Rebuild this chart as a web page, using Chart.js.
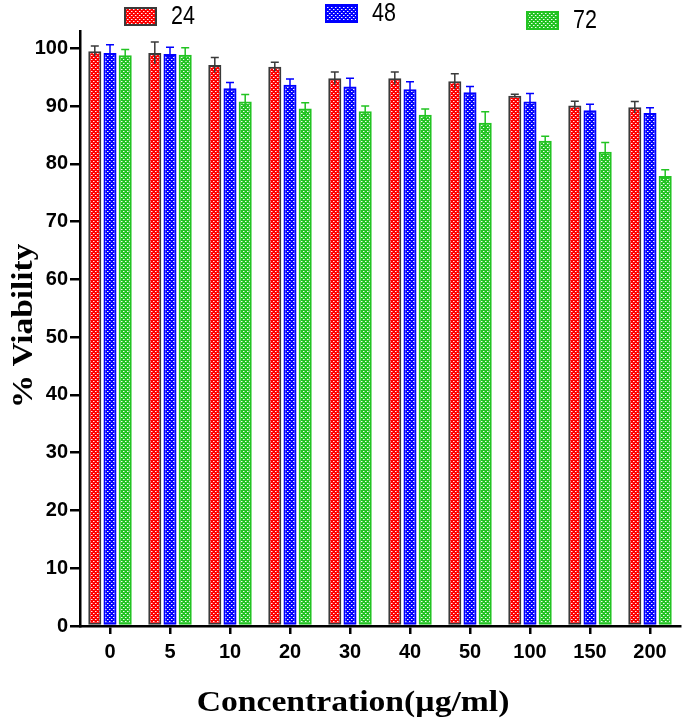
<!DOCTYPE html>
<html>
<head>
<meta charset="utf-8">
<script src="https://cdn.jsdelivr.net/npm/chart.js@4.4.1/dist/chart.umd.min.js"></script>
<style>
  html, body { margin: 0; padding: 0; background: #fff; }
  #wrap { width: 685px; height: 723px; position: relative; }
</style>
</head>
<body>
<div id="wrap"><canvas id="chart"></canvas></div>
<script>
// concentrations (µg/ml)
const categories = ["0", "5", "10", "20", "30", "40", "50", "100", "150", "200"];
const seriesNames = ["24", "48", "72"];

// % viability by hours
const viab24 = [99.5, 99.2, 97.1, 96.8, 94.8, 94.8, 94.3, 91.8, 90.1, 89.8];
const viab48 = [99.2, 99.0, 93.1, 93.7, 93.4, 92.9, 92.4, 90.8, 89.3, 88.8];
const viab72 = [98.8, 98.9, 90.8, 89.6, 89.1, 88.5, 87.1, 84.0, 82.1, 77.9];

// error (SD)
const err24 = [0.9, 1.9, 1.3, 0.8, 1.1, 1.1, 1.3, 0.25, 0.75, 1.0];
const err48 = [1.4, 1.2, 1.0, 1.0, 1.4, 1.3, 1.0, 1.4, 1.0, 0.9];
const err72 = [1.0, 1.2, 1.2, 1.0, 0.9, 1.0, 1.9, 0.8, 1.6, 1.1];

const yTicks = [0, 10, 20, 30, 40, 50, 60, 70, 80, 90, 100];

const xTitle = "Concentration(µg/ml)";
const yTitle = "% Viability";

// motif damier : couleur + petits points blancs décalés
function makePattern(color) {
  const c = document.createElement("canvas");
  c.width = 4;
  c.height = 4;
  const g = c.getContext("2d");
  g.fillStyle = color;
  g.fillRect(0, 0, 4, 4);
  g.fillStyle = "rgba(255,255,255,0.95)";
  g.fillRect(1, 1, 1, 1);
  g.fillRect(3, 3, 1, 1);
  g.fillStyle = "rgba(255,255,255,0.45)";
  g.fillRect(2, 1, 1, 1);
  g.fillRect(0, 3, 1, 1);
  return g.createPattern(c, "repeat");
}

const fills = ["#ff0000", "#0000ff", "#22c322"];
const borders = ["#3a3a3a", "#0000ff", "#22c322"];
const errs = [err24, err48, err72];
const values = [viab24, viab48, viab72];

const errorBars = {
  id: "errorBars",
  afterDatasetsDraw(chart) {
    const ctx = chart.ctx;
    const y = chart.scales.y;
    chart.data.datasets.forEach((ds, di) => {
      const meta = chart.getDatasetMeta(di);
      meta.data.forEach((bar, i) => {
        const v = ds.data[i];
        const e = errs[di][i];
        const top = y.getPixelForValue(v + e);
        const bot = y.getPixelForValue(v - e);
        ctx.save();
        ctx.strokeStyle = borders[di];
        ctx.lineWidth = 1.5;
        ctx.beginPath();
        ctx.moveTo(bar.x, bot);
        ctx.lineTo(bar.x, top);
        ctx.moveTo(bar.x - 4, top);
        ctx.lineTo(bar.x + 4, top);
        ctx.stroke();
        ctx.restore();
      });
    });
  }
};

// légende + titres d'axes (police étirée comme sur la figure)
const decorations = {
  id: "decorations",
  afterDraw(chart) {
    const ctx = chart.ctx;
    const spots = [[125, 8], [326, 5], [527, 12]];
    seriesNames.forEach((name, i) => {
      const [x, yy] = spots[i];
      ctx.save();
      ctx.fillStyle = makePattern(fills[i]);
      ctx.fillRect(x, yy, 31, 17);
      ctx.strokeStyle = borders[i];
      ctx.lineWidth = 2;
      ctx.strokeRect(x, yy, 31, 17);
      ctx.fillStyle = "#000";
      ctx.font = "25px 'Liberation Sans', Arial, sans-serif";
      ctx.textBaseline = "middle";
      ctx.translate(x + 46, yy + 9);
      ctx.scale(0.86, 1);
      ctx.fillText(name, 0, 0);
      ctx.restore();
    });

    const serif = "bold 29px 'Liberation Serif', 'Times New Roman', serif";
    ctx.save();
    ctx.fillStyle = "#000";
    ctx.font = serif;
    ctx.textAlign = "center";
    ctx.textBaseline = "alphabetic";
    ctx.translate(353, 711);
    ctx.scale(1.16, 1);
    ctx.fillText(xTitle, 0, 0);
    ctx.restore();

    ctx.save();
    ctx.fillStyle = "#000";
    ctx.font = serif;
    ctx.textAlign = "center";
    ctx.textBaseline = "alphabetic";
    ctx.translate(32, 326);
    ctx.rotate(-Math.PI / 2);
    ctx.scale(1.15, 1);
    ctx.fillText(yTitle, 0, 0);
    ctx.restore();
  }
};

const ctx = document.getElementById("chart").getContext("2d");
new Chart(ctx, {
  type: "bar",
  data: {
    labels: categories,
    datasets: seriesNames.map((name, i) => ({
      label: name,
      data: values[i],
      backgroundColor: makePattern(fills[i]),
      borderColor: borders[i],
      borderWidth: 2,
      borderSkipped: false,
      categoryPercentage: 0.76,
      barPercentage: 0.86,
    })),
  },
  options: {
    responsive: true,
    maintainAspectRatio: false,
    animation: false,
    layout: { padding: { left: 0, top: 31, right: 5, bottom: 0 } },
    plugins: {
      legend: { display: false },
      tooltip: { enabled: false },
    },
    scales: {
      x: {
        afterFit: (s) => { s.height = 97; },
        grid: {
          display: true,
          offset: false,
          drawOnChartArea: false,
          drawTicks: true,
          tickLength: 8,
          color: "#000",
          lineWidth: 2.5,
        },
        border: { display: true, color: "#000", width: 2.5 },
        ticks: {
          color: "#000",
          padding: 6,
          font: { family: "'Liberation Sans', Arial, sans-serif", size: 20, weight: "bold" },
        },
      },
      y: {
        min: 0,
        max: 103,
        afterFit: (s) => { s.width = 80; },
        afterBuildTicks: (s) => { s.ticks = yTicks.map((v) => ({ value: v })); },
        grid: {
          display: true,
          drawOnChartArea: false,
          drawTicks: true,
          tickLength: 10,
          color: "#000",
          lineWidth: 2.5,
        },
        border: { display: true, color: "#000", width: 2.5 },
        ticks: {
          color: "#000",
          padding: 2,
          font: { family: "'Liberation Sans', Arial, sans-serif", size: 20, weight: "bold" },
        },
      },
    },
  },
  plugins: [errorBars, decorations],
});
</script>
</body>
</html>
